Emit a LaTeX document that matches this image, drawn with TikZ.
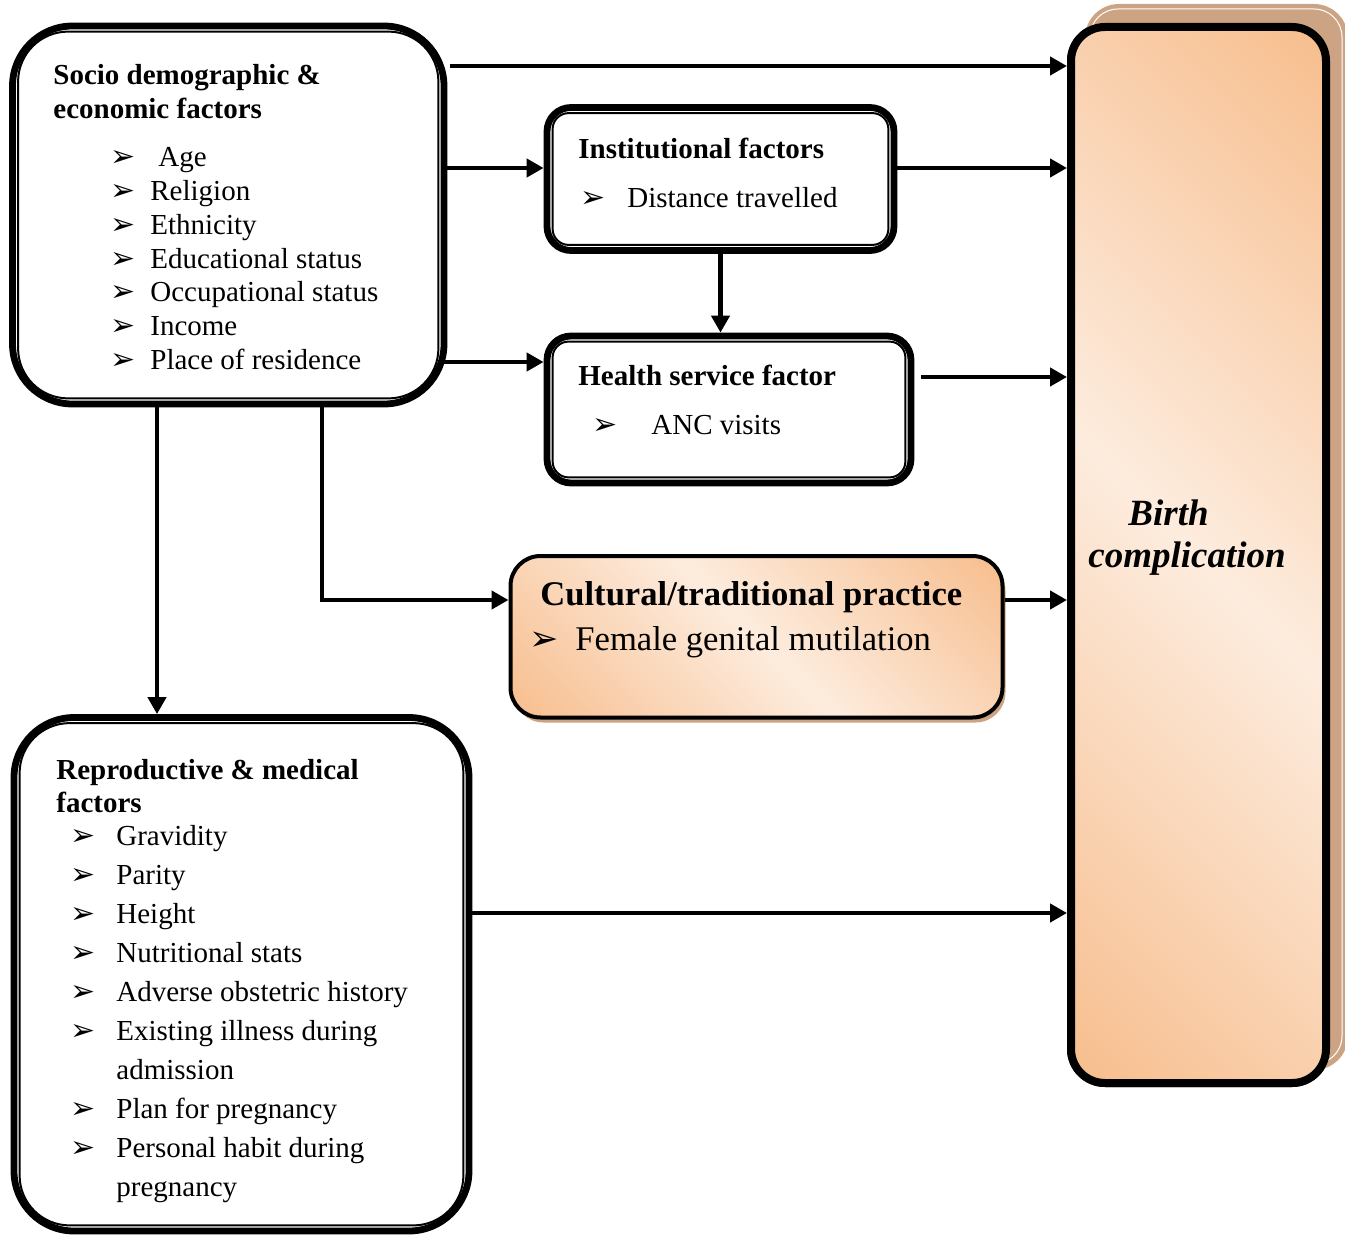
\documentclass[tikz,border=0pt]{standalone}
\usepackage{fontspec}
\setmainfont{Liberation Serif}
\newfontfamily\dejavu{DejaVu Sans}
\usepackage{tikz}
\usetikzlibrary{arrows.meta}
\usetikzlibrary{positioning}
\usetikzlibrary{calc,shadows}

\definecolor{peachlt}{RGB}{253,236,222}
\definecolor{peachdk}{RGB}{247,190,142}
\definecolor{shadowtan}{RGB}{204,163,131}
\pgfdeclarehorizontalshading{peachdiag}{100bp}{color(0bp)=(peachdk); color(15bp)=(peachdk); color(50bp)=(peachlt); color(85bp)=(peachdk); color(100bp)=(peachdk)}

\newcommand{\bul}{{\dejavu\fontsize{15}{15}\selectfont ➢}}
\newcommand{\bigbul}{{\dejavu\fontsize{17.5}{17.5}\selectfont ➢}}
\newcommand{\itm}[2][20pt]{\makebox[#1][l]{\bul}#2}

\tikzset{
	outerbox/.style={draw=black, line width=3.4pt, inner sep=0pt},
	innerline/.style={draw=black, line width=1pt},
	culturebox/.style={draw=black, line width=2pt, inner sep=0pt, rounded corners=15pt,
		shading=peachdiag, shading angle=45,
		drop shadow={shadow xshift=1.5pt, shadow yshift=-2.5pt, fill=shadowtan, opacity=1}},
	outcomebox/.style={draw=black, line width=4pt, inner sep=0pt, rounded corners=17pt,
		shading=peachdiag, shading angle=45},
	txt/.style={anchor=north west, inner sep=0pt, align=left, font=\fontsize{14.5}{16.85}\selectfont},
	arr/.style={draw=black, line width=2.3pt, -{Triangle[length=8.5pt,width=9pt]}},
}

\begin{document}
\begin{tikzpicture}[x=0.5pt, y=-0.5pt]
	\useasboundingbox (0,0) rectangle (1345,1236);

	% outcome box with its shadow
	\node[outcomebox, minimum width=127.5pt, minimum height=528pt] (birth) at (1198.5,555) {};
	\fill[shadowtan, rounded corners=17pt] ($(birth.north west)+(18,-19)$) rectangle ($(birth.south east)+(18,-17)$);
	\draw[white, line width=0.5pt, rounded corners=14pt] ($(birth.north west)+(23,-14)$) rectangle ($(birth.south east)+(12,-23)$);
	\node[outcomebox, minimum width=127.5pt, minimum height=528pt] at (birth) {};
	\node[anchor=north west, inner sep=0pt, align=left, font=\fontsize{18.5}{21}\selectfont\bfseries\itshape] (birthtxt) at (1088,499) {\hspace{20pt}Birth\\complication};

	% factor boxes
	\node[outerbox, rounded corners=30pt, minimum width=215.75pt, minimum height=189pt] (soc) at (228.25,215) {};
	\draw[innerline, rounded corners=25pt] ($(soc.north west)+(9,9)$) rectangle ($(soc.south east)+(-9,-9)$);

	\node[outerbox, rounded corners=12pt, minimum width=173.5pt, minimum height=71.5pt] (inst) at (720.5,179) {};
	\draw[innerline, rounded corners=8pt] ($(inst.north west)+(9,9)$) rectangle ($(inst.south east)+(-9,-9)$);

	\node[outerbox, rounded corners=12pt, minimum width=182pt, minimum height=73.5pt] (health) at (729,409.5) {};
	\draw[innerline, rounded corners=8pt] ($(health.north west)+(9,9)$) rectangle ($(health.south east)+(-9,-9)$);

	\node[culturebox, minimum width=246pt, minimum height=80.75pt] (cult) at (756.5,636.75) {};

	\node[outerbox, rounded corners=30pt, minimum width=227.5pt, minimum height=256.75pt] (repro) at (241.5,974.25) {};
	\draw[innerline, rounded corners=25pt] ($(repro.north west)+(9,9)$) rectangle ($(repro.south east)+(-9,-9)$);

	% texts
	\node[txt] (soctxt) at (53,64)
		{\textbf{Socio demographic \&}\\
		\textbf{economic factors}\\[7.5pt]
		\hspace{28.5pt}\itm{\hspace{4pt}Age}\\
		\hspace{28.5pt}\itm{Religion}\\
		\hspace{28.5pt}\itm{Ethnicity}\\
		\hspace{28.5pt}\itm{Educational status}\\
		\hspace{28.5pt}\itm{Occupational status}\\
		\hspace{28.5pt}\itm{Income}\\
		\hspace{28.5pt}\itm{Place of residence}};

	\node[txt] (insttxt) at (578,138)
		{\textbf{Institutional factors}\\[7.5pt]
		\hspace{1pt}\itm[23.5pt]{Distance travelled}};

	\node[txt] (healthtxt) at (578,365)
		{\textbf{Health service factor}\\[7.5pt]
		\hspace{7pt}\itm[29.5pt]{ANC visits}};

	\node[txt, font=\fontsize{17.3}{20}\selectfont] (culttxt) at (529,581)
		{\hspace{5.5pt}\textbf{Cultural/traditional practice}\\[2.5pt]
		\makebox[23pt][l]{\bigbul}Female genital mutilation};

	\node[txt, font=\fontsize{14.5}{19.5}\selectfont] (reprotxt) at (56,759)
		{\textbf{Reproductive \& medical}\\[-3pt]
		\textbf{factors}\\[-3pt]
		\hspace{7pt}\itm[23pt]{Gravidity}\\
		\hspace{7pt}\itm[23pt]{Parity}\\
		\hspace{7pt}\itm[23pt]{Height}\\
		\hspace{7pt}\itm[23pt]{Nutritional stats}\\
		\hspace{7pt}\itm[23pt]{Adverse obstetric history}\\
		\hspace{7pt}\itm[23pt]{Existing illness during}\\
		\hspace{30pt}admission\\
		\hspace{7pt}\itm[23pt]{Plan for pregnancy}\\
		\hspace{7pt}\itm[23pt]{Personal habit during}\\
		\hspace{30pt}pregnancy};

	% connectors
	\draw[arr, shorten <=1.5pt] (soc.east |- 0,66) -- (birth.west |- 0,66);
	\draw[arr] (soc.east |- 0,168) -- (inst.west |- 0,168);
	\draw[arr] (inst.east |- 0,168) -- (birth.west |- 0,168);
	\draw[arr] (inst.south) -- (inst.south |- health.north);
	\draw[arr, shorten <=-2pt] (soc.east |- 0,362) -- (health.west |- 0,362);
	\draw[arr, shorten <=3.5pt] (health.east |- 0,377) -- (birth.west |- 0,377);
	\draw[arr] (soc.south -| 157,0) -- (repro.north -| 157,0);
	\draw[arr] (soc.south -| 322,0) |- (cult.west |- 0,600);
	\draw[arr] (cult.east |- 0,600) -- (birth.west |- 0,600);
	\draw[arr] (repro.east |- 0,913) -- (birth.west |- 0,913);
\end{tikzpicture}
\end{document}
